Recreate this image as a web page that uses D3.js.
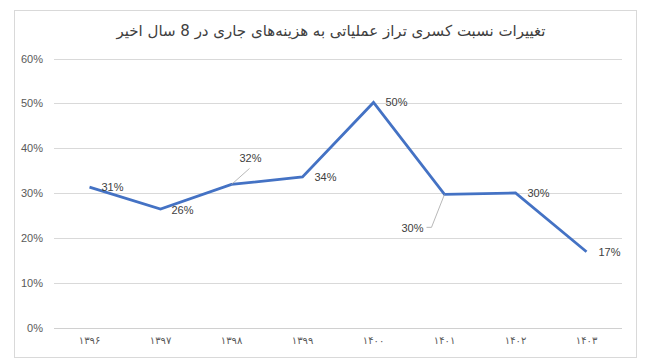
<!DOCTYPE html>
<html><head><meta charset="utf-8">
<script src="https://cdn.jsdelivr.net/npm/d3@7"></script>
<style>body{margin:0;background:#fff}svg{display:block}</style>
</head><body>
<svg id="c" width="650" height="364"></svg>
<script>
const title = "تغییرات نسبت کسری تراز عملیاتی به هزینه‌های جاری در 8 سال اخیر";
const years = ["۱۳۹۶","۱۳۹۷","۱۳۹۸","۱۳۹۹","۱۴۰۰","۱۴۰۱","۱۴۰۲","۱۴۰۳"];
const values = [0.313, 0.264, 0.319, 0.336, 0.502, 0.297, 0.300, 0.169];
const labels = ["31%","26%","32%","34%","50%","30%","30%","17%"];
const yTicks = [0, 0.1, 0.2, 0.3, 0.4, 0.5, 0.6];

const svg = d3.select("#c");
svg.append("rect").attr("x",14.5).attr("y",10.5).attr("width",622).attr("height",347)
  .attr("fill","#fff").attr("stroke","#d9d9d9");

const x = d3.scaleBand().domain(years).range([54,622]);
const y = d3.scaleLinear().domain([0,0.6]).range([327.5,58.5]);

svg.append("text").attr("x",331).attr("y",36).attr("text-anchor","middle")
  .attr("direction","rtl")
  .attr("font-family","DejaVu Sans, Arial, sans-serif").attr("font-size",15)
  .attr("fill","#404040").text(title);

// gridlines
svg.append("g").selectAll("line").data(yTicks).join("line")
  .attr("x1",54).attr("x2",622).attr("y1",d=>Math.round(y(d))+0.5).attr("y2",d=>Math.round(y(d))+0.5)
  .attr("stroke",d=>d===0?"#d0d0d0":"#d9d9d9").attr("stroke-width",1);

// y axis labels
const yAxis = d3.axisLeft(y).tickValues(yTicks).tickFormat(d3.format(".0%")).tickSize(0).tickPadding(0);
const gy = svg.append("g").attr("transform","translate(43,0)").call(yAxis);
gy.select(".domain").remove();
gy.selectAll("text").attr("font-family","Liberation Sans, Arial, sans-serif").attr("font-size",11).attr("fill","#595959");

// x axis labels
const xAxis = d3.axisBottom(x).tickSize(0).tickPadding(0);
const gx = svg.append("g").attr("transform","translate(0,337)").call(xAxis);
gx.select(".domain").remove();
gx.selectAll("text").attr("font-family","DejaVu Sans, Arial, sans-serif").attr("font-size",10).attr("fill","#595959");

// line
const line = d3.line().x((d,i)=>x(years[i])+x.bandwidth()/2).y(d=>y(d));
svg.append("path").datum(values).attr("d",line).attr("fill","none")
  .attr("stroke","#4472c4").attr("stroke-width",2.8).attr("stroke-linejoin","miter");

// data labels (offsets relative to points)
const cx = i => x(years[i])+x.bandwidth()/2;
const offs = [[12,0],[11,1],[8,-26],[12,0],[12,0],[-43,34],[12,0],[12,0]];
svg.append("g").selectAll("text").data(values).join("text")
  .attr("x",(d,i)=>cx(i)+offs[i][0]).attr("y",(d,i)=>y(d)+offs[i][1]+4)
  .attr("font-family","Liberation Sans, Arial, sans-serif").attr("font-size",11).attr("fill","#404040")
  .text((d,i)=>labels[i]);

// leader lines
const l2 = [[cx(2),y(values[2])],[cx(2)+18,y(values[2])-16]];
svg.append("path").attr("d",d3.line()(l2)).attr("fill","none").attr("stroke","#a6a6a6").attr("stroke-width",0.8);
const l5 = [[cx(5),y(values[5])],[cx(5)-13,y(values[5])+33],[cx(5)-18,y(values[5])+33]];
svg.append("path").attr("d",d3.line()(l5)).attr("fill","none").attr("stroke","#a6a6a6").attr("stroke-width",0.8);
</script>
</body></html>
